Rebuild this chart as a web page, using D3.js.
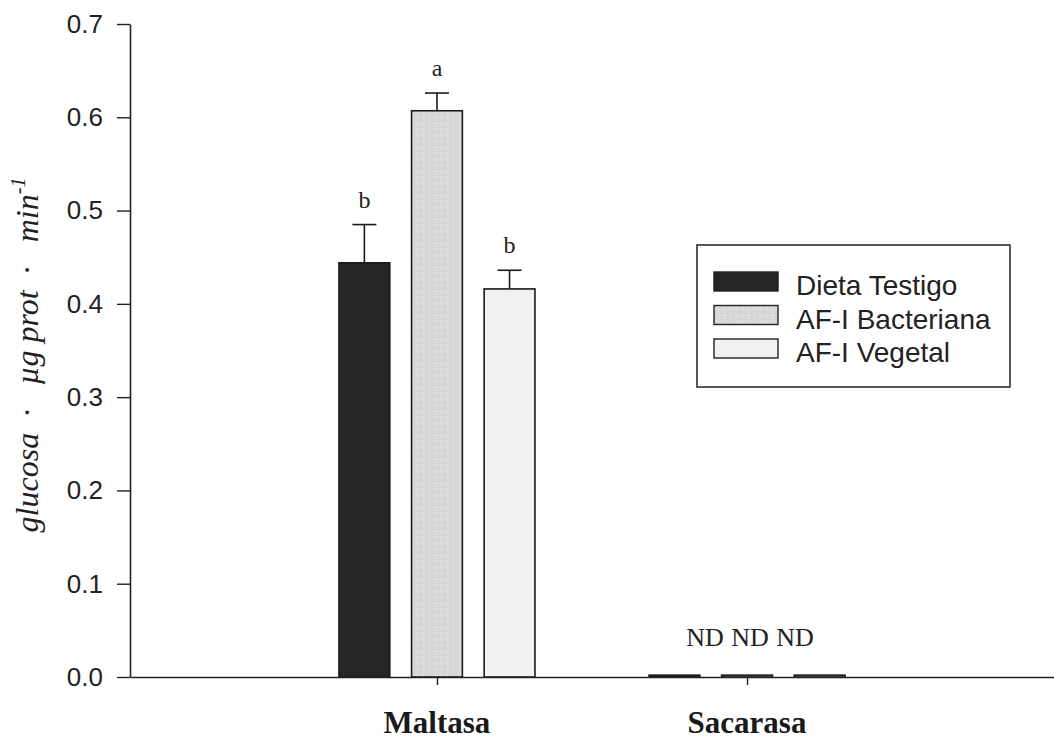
<!DOCTYPE html>
<html>
<head>
<meta charset="utf-8">
<script src="https://cdn.jsdelivr.net/npm/d3@7"></script>
<style>
  html, body { margin: 0; padding: 0; background: #fff; }
  svg { display: block; }
</style>
</head>
<body>
<svg id="chart" width="1054" height="742"></svg>
<script>
// ---- data ----
const categories = ["Maltasa", "Sacarasa"];
const series = ["Dieta Testigo", "AF-I Bacteriana", "AF-I Vegetal"];
const maltasaValues = [0.444, 0.607, 0.416];
const maltasaErrors = [0.041, 0.019, 0.020];
const sacarasaValues = [0.002, 0.002, 0.002];
const sacarasaErrors = [0, 0, 0];
const maltasaLabels = ["b", "a", "b"];
const sacarasaLabels = ["ND", "ND", "ND"];
const yTicks = [0.0, 0.1, 0.2, 0.3, 0.4, 0.5, 0.6, 0.7];
const seriesColors = ["#262626", "url(#stipple)", "#f1f1f1"];
const legendColors = ["#262626", "url(#stipple)", "#f1f1f1"];

const table = categories.map((c, i) => ({
  category: c,
  values: (i === 0 ? maltasaValues : sacarasaValues),
  errors: (i === 0 ? maltasaErrors : sacarasaErrors),
  labels: (i === 0 ? maltasaLabels : sacarasaLabels)
}));

// ---- layout ----
const svg = d3.select("#chart");
const x0 = 130, xEnd = 1054, yBottom = 677, yTop = 24;

const defs = svg.append("defs");
const pat = defs.append("pattern").attr("id", "stipple")
  .attr("patternUnits", "userSpaceOnUse").attr("width", 6).attr("height", 6);
pat.append("rect").attr("width", 6).attr("height", 6).attr("fill", "#d9d9d9");
pat.append("rect").attr("x", 1).attr("y", 1).attr("width", 1).attr("height", 1).attr("fill", "#c4c4c4");
pat.append("rect").attr("x", 4).attr("y", 3).attr("width", 1).attr("height", 1).attr("fill", "#e8e8e8");
pat.append("rect").attr("x", 2).attr("y", 5).attr("width", 1).attr("height", 1).attr("fill", "#c9c9c9");

const y = d3.scaleLinear().domain([0, 0.7]).range([yBottom, yTop]);
const x = d3.scalePoint().domain(categories).range([x0, xEnd]).padding(0.99);
const xInner = d3.scaleBand().domain(series).range([-98, 98]).paddingInner(0.3);

// y axis
const yAxis = svg.append("g")
  .attr("transform", `translate(${x0},0)`)
  .call(d3.axisLeft(y).tickValues(yTicks).tickFormat(d3.format(".1f")).tickSize(13).tickPadding(14).tickSizeOuter(0));
yAxis.select(".domain").attr("stroke", "#222").attr("stroke-width", 1.6);
yAxis.selectAll(".tick line").attr("stroke", "#222").attr("stroke-width", 1.4);
yAxis.selectAll(".tick text")
  .attr("font-family", "'Liberation Sans', Arial, sans-serif")
  .attr("font-size", 26).attr("fill", "#222");

// bars
const groups = svg.selectAll(".grp").data(table).join("g")
  .attr("class", "grp")
  .attr("transform", d => `translate(${x(d.category)},0)`);

groups.each(function(d) {
  const g = d3.select(this);
  const rows = series.map((s, i) => ({ s, i, v: d.values[i], e: d.errors[i], lab: d.labels[i] }));
  g.selectAll("rect.bar").data(rows).join("rect")
    .attr("class", "bar")
    .attr("x", r => xInner(r.s))
    .attr("width", xInner.bandwidth())
    .attr("y", r => y(r.v))
    .attr("height", r => y(0) - y(r.v))
    .attr("fill", r => seriesColors[r.i])
    .attr("stroke", "#1a1a1a")
    .attr("stroke-width", 1.6);

  const withErr = rows.filter(r => r.e > 0);
  g.selectAll("line.err").data(withErr).join("line")
    .attr("class", "err")
    .attr("x1", r => xInner(r.s) + xInner.bandwidth() / 2)
    .attr("x2", r => xInner(r.s) + xInner.bandwidth() / 2)
    .attr("y1", r => y(r.v))
    .attr("y2", r => y(r.v + r.e))
    .attr("stroke", "#1a1a1a").attr("stroke-width", 1.6);
  g.selectAll("line.cap").data(withErr).join("line")
    .attr("class", "cap")
    .attr("x1", r => xInner(r.s) + xInner.bandwidth() / 2 - 12)
    .attr("x2", r => xInner(r.s) + xInner.bandwidth() / 2 + 12)
    .attr("y1", r => y(r.v + r.e))
    .attr("y2", r => y(r.v + r.e))
    .attr("stroke", "#1a1a1a").attr("stroke-width", 1.6);

  const isND = d.labels[0] === "ND";
  g.selectAll("text.lab").data(rows).join("text")
    .attr("class", "lab")
    .attr("x", r => {
      const c = xInner(r.s) + xInner.bandwidth() / 2;
      return isND ? c * 0.62 + 3 : c;
    })
    .attr("y", r => isND ? y(r.v + r.e) - 29 : y(r.v + r.e) - 17)
    .attr("text-anchor", "middle")
    .attr("font-family", "'Liberation Serif', 'Times New Roman', serif")
    .attr("font-size", isND ? 26 : 24)
    .attr("fill", "#222")
    .text(r => r.lab);
});

// x axis (drawn on top of bar bottoms)
const xAxis = svg.append("g")
  .attr("transform", `translate(0,${yBottom})`)
  .call(d3.axisBottom(x).tickSize(8).tickSizeOuter(0).tickFormat(""));
xAxis.select(".domain").attr("stroke", "#222").attr("stroke-width", 1.6);
xAxis.selectAll(".tick line").attr("stroke", "#222").attr("stroke-width", 1.4);

svg.append("g").selectAll("text.cat").data(categories).join("text")
  .attr("class", "cat")
  .attr("x", d => x(d))
  .attr("y", 733)
  .attr("text-anchor", "middle")
  .attr("font-family", "'Liberation Serif', 'Times New Roman', serif")
  .attr("font-weight", "bold")
  .attr("font-size", 31)
  .attr("fill", "#1a1a1a")
  .text(d => d);

// y label
const yl = svg.append("text")
  .attr("transform", "translate(38,355) rotate(-90)")
  .attr("text-anchor", "middle")
  .attr("font-family", "'Liberation Serif', 'Times New Roman', serif")
  .attr("font-style", "italic")
  .attr("font-size", 32)
  .attr("fill", "#222");
yl.append("tspan").text("glucosa\u00a0\u00a0·\u00a0\u00a0\u00a0µg\u00a0prot\u00a0\u00a0·\u00a0\u00a0\u00a0min");
yl.append("tspan").attr("dy", -13).attr("font-size", 20).text("-1");

// legend
const legend = svg.append("g");
legend.append("rect")
  .attr("x", 697).attr("y", 245).attr("width", 313).attr("height", 142)
  .attr("fill", "#fff").attr("stroke", "#222").attr("stroke-width", 1.5);
const ly = d3.scalePoint().domain(series).range([295, 362]);
legend.selectAll("rect.sw").data(series).join("rect")
  .attr("class", "sw")
  .attr("x", 714).attr("y", d => ly(d) - 23)
  .attr("width", 64).attr("height", 19)
  .attr("fill", (d, i) => legendColors[i])
  .attr("stroke", "#222").attr("stroke-width", 1.4);
legend.selectAll("text.lt").data(series).join("text")
  .attr("class", "lt")
  .attr("x", 796).attr("y", d => ly(d))
  .attr("font-family", "'Liberation Sans', Arial, sans-serif")
  .attr("font-size", 28).attr("fill", "#222")
  .text(d => d);
</script>
</body>
</html>
